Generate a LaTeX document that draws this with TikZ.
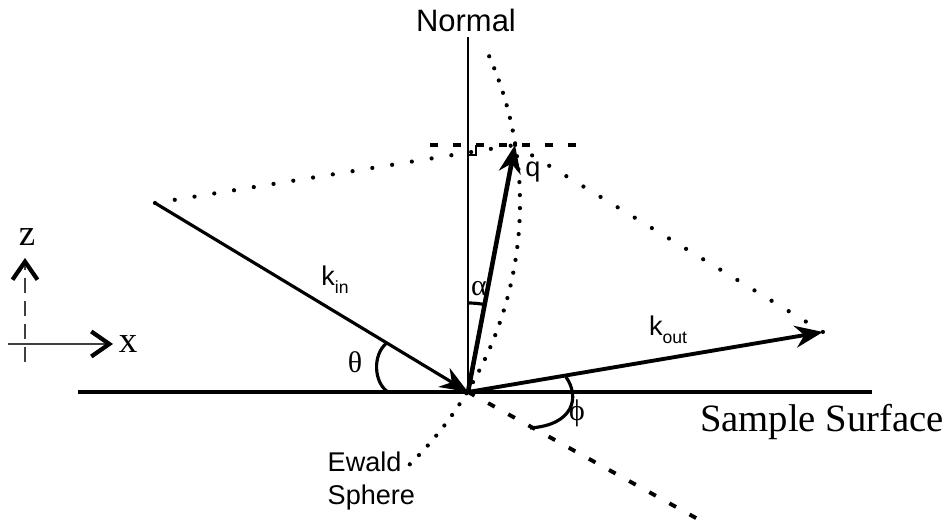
\documentclass[tikz,border=0pt]{standalone}
\usepackage{fontspec}
\setmainfont{Liberation Sans}
\newfontfamily\serifface{Liberation Serif}
\usetikzlibrary{arrows.meta}
\newcommand{\lowidx}[1]{\raisebox{-.55ex}{\fontsize{5}{6}\selectfont #1}}
\tikzset{
  >={Stealth[length=2.8mm,width=2.2mm]},
  vector/.style={->, draw=black, line width=.9pt},
  dotline/.style={draw=black, line width=1.2pt, line cap=round, dash pattern=on 0pt off 2mm},
  ewaldline/.style={draw=black, line width=1.2pt, line cap=round, dash pattern=on 0pt off 1.3mm},
  dashline/.style={draw=black, line width=1.1pt, dash pattern=on .75mm off 1.55mm},
  anglearc/.style={draw=black, line width=.9pt},
  tagtext/.style={inner sep=0pt, font=\fontsize{7.7}{9.4}\selectfont},
  greektext/.style={inner sep=0pt, font=\serifface\fontsize{8.5}{10}\selectfont},
  axisarrow/.style={-{Straight Barb[length=1.8mm,width=2.5mm,line width=1.2pt,color=black]}, draw=black!75, line width=.45pt}
}

\begin{document}
\begin{tikzpicture}[x=0.01cm,y=0.01cm]
\useasboundingbox (0,0) rectangle (949,525);

% Key points
\coordinate (origin) at (468,133);
\coordinate (normaltop) at (468,488);
\coordinate (kinstart) at (155,322);
\coordinate (qtip) at (515,380);
\coordinate (kouttip) at (823,193);
\coordinate (surfleft) at (78,133);
\coordinate (surfright) at (872,133);
\coordinate (dashleft) at (430,380);
\coordinate (dashright) at (577,380);
\coordinate (projend) at (705,2);

% Sample surface and normal
\draw[line width=1.25pt] (surfleft) -- (surfright);
\draw[line width=.75pt] (origin) -- (normaltop);
\node[tagtext, font=\fontsize{8.8}{10}\selectfont] (normal) at (466,505) {Normal};
\node[inner sep=0pt, font=\serifface\fontsize{11}{13}\selectfont] (surface) at (822,103) {Sample Surface};

% Ewald construction
\draw[dotline] (kinstart) -- (qtip);
\draw[dotline] (qtip) -- (kouttip);
\coordinate (ewaldtop) at ([shift={(23.7:365)}]kinstart);
\draw[ewaldline] (ewaldtop) arc[start angle=23.7, end angle=-46.5, radius=365];
\node[tagtext, align=left, anchor=west] (ewald) at (327,44) {Ewald\\Sphere};

% Horizontal through q and projection of k_out
\draw[dashline] (dashleft) -- (dashright);
\coordinate (rightmark) at (476,380);
\draw[line width=.7pt] (468,370) -| (rightmark);
\draw[dashline] (origin) -- (projend);

% Wave vectors
\draw[vector] (kinstart) -- (origin);
\draw[vector, line width=1.3pt] (origin) -- (qtip);
\draw[vector, line width=1.1pt] (origin) -- (kouttip);
\node[tagtext] (kin) at (335,245) {k\lowidx{in}};
\node[tagtext] (kout) at (668,195) {k\lowidx{out}};
\node[tagtext] (q) at (533,353) {q};

% Angles
\draw[anglearc] (386.7,182) .. controls (372,170) and (374,142) .. (388,133);
\draw[anglearc] ([shift={(90:89)}]origin) arc[start angle=90, end angle=79, radius=89];
\draw[anglearc] (566,148) .. controls (580,128) and (574,100) .. (530,97);
\node[greektext] (theta) at (355,163) {θ};
\node[greektext] (alpha) at (479,236) {α};
\node[greektext] (phi) at (577,112) {ϕ};

% Axes
\coordinate (zbase) at (25,163);
\coordinate (ztip) at (25,267);
\coordinate (xbase) at (8,181);
\coordinate (xtip) at (113,181);
\draw[axisarrow, dash pattern=on 1.5mm off .8mm] (zbase) -- (ztip);
\draw[axisarrow] (xbase) -- (xtip);
\node[greektext, font=\serifface\fontsize{10.5}{11}\selectfont] (zlabel) at (27,288) {z};
\node[greektext, font=\serifface\fontsize{10.5}{11}\selectfont] (xlabel) at (128,181) {x};

\end{tikzpicture}
\end{document}
